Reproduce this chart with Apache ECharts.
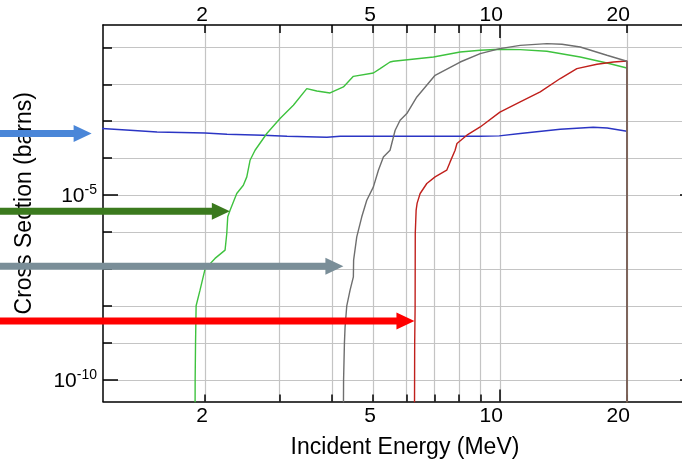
<!DOCTYPE html>
<html>
<head>
<meta charset="utf-8">
<script src="https://cdn.jsdelivr.net/npm/echarts@6/dist/echarts.min.js"></script>
<style>
  html, body { margin: 0; padding: 0; background: #fff; }
  #chart { width: 682px; height: 462px; }
</style>
</head>
<body>
<div id="chart"></div>
<script>
// Axis ticks: incident energy (MeV) and cross-section decades (barns)
const energyTicks = [2, 3, 4, 5, 6, 7, 8, 9, 10, 20];
const energyMajorTicks = [10];
const energyLabels = [2, 5, 10, 20];
const xsTicks = [1e-10, 1e-9, 1e-8, 1e-7, 1e-6, 1e-5, 1e-4, 1e-3, 1e-2, 1e-1];
const xsLabels = [1e-10, 1e-5];

// Reaction channels: [incident energy (MeV), cross section (barns)]
const channelBlue = [
  [1.10, 6.5e-4], [1.328, 5.71e-4], [1.539, 5.14e-4], [2.0, 4.83e-4], [2.255, 4.45e-4],
  [2.746, 4.19e-4], [3.13, 3.94e-4], [3.89, 3.70e-4], [4.18, 3.94e-4], [5.49, 3.94e-4],
  [8.98, 3.94e-4], [9.96, 4.01e-4], [11.17, 4.66e-4], [13.9, 6.08e-4], [16.64, 6.89e-4],
  [17.96, 6.59e-4], [20.0, 5.37e-4]
];
const channelGreen = [
  [1.893, 1e-12], [1.895, 1e-10], [1.899, 1e-9], [1.905, 1.02e-8], [1.946, 2.7e-8],
  [2.0, 1e-7], [2.112, 1.95e-7], [2.231, 3.27e-7], [2.252, 9.2e-7], [2.264, 2.6e-6],
  [2.293, 3.94e-6], [2.378, 1.11e-5], [2.465, 1.86e-5], [2.512, 3.13e-5], [2.557, 8.8e-5],
  [2.628, 1.64e-4], [2.802, 4.66e-4], [3.012, 1.18e-3], [3.239, 2.70e-3], [3.485, 7.65e-3],
  [3.681, 6.59e-3], [3.958, 5.82e-3], [4.256, 8.45e-3], [4.494, 1.64e-2], [5.013, 2.02e-2],
  [5.20, 2.65e-2], [5.49, 4.0e-2], [5.59, 4.19e-2], [6.96, 5.47e-2], [8.05, 7.47e-2],
  [8.98, 8.3e-2], [10.01, 8.83e-2], [11.17, 8.67e-2], [12.92, 7.8e-2], [15.5, 5.47e-2],
  [17.93, 3.77e-2], [20.0, 2.76e-2], [20.0, 1e-12]
];
const channelGray = [
  [4.252, 1e-12], [4.26, 1e-10], [4.28, 1e-9], [4.295, 2.7e-9], [4.335, 1.02e-8],
  [4.414, 2.7e-8], [4.494, 6.2e-8], [4.50, 1.75e-7], [4.578, 7.46e-7], [4.705, 2.6e-6],
  [4.835, 7.3e-6], [5.013, 1.68e-5], [5.152, 4.74e-5], [5.294, 1.08e-4], [5.49, 1.64e-4],
  [5.645, 5.7e-4], [5.80, 1.06e-3], [6.016, 1.61e-3], [6.355, 4.54e-3], [7.02, 1.75e-2],
  [8.05, 4.0e-2], [8.98, 6.76e-2], [10.0, 9.2e-2], [11.17, 0.113], [12.92, 0.126],
  [14.03, 0.121], [15.5, 0.102], [17.93, 6.08e-2], [20.0, 4.19e-2], [20.0, 1e-12]
];
const channelRed = [
  [6.27, 1e-12], [6.28, 1e-9], [6.295, 9.6e-9], [6.30, 9.2e-7], [6.33, 3.94e-6],
  [6.365, 6.1e-6], [6.47, 1.11e-5], [6.71, 2.07e-5], [7.02, 3.13e-5], [7.48, 4.74e-5],
  [7.62, 7.95e-5], [7.83, 1.64e-4], [7.91, 2.5e-4], [8.35, 4.19e-4], [8.98, 7.0e-4],
  [10.0, 1.77e-3], [11.17, 3.32e-3], [12.46, 6.2e-3], [13.9, 1.43e-2], [15.22, 2.65e-2],
  [16.98, 3.47e-2], [18.59, 4.0e-2], [20.0, 4.27e-2], [20.0, 1e-12]
];

// Threshold arrows: [energy at the arrow tip (MeV), cross section level (barns)]
const arrowTips = [
  [1.077, 4.66e-4],
  [2.29, 3.7e-6],
  [4.256, 1.2e-7],
  [6.272, 3.94e-9]
];
const arrowColors = ['#4a86d8', '#3b7a1e', '#7a8e98', '#ff0000'];

const FONT = 'Liberation Sans';
const xMin = 1.146, xMax = 29.0;
const yMin = Math.pow(10, -10.58), yMax = Math.pow(10, -0.397);

const chart = echarts.init(document.getElementById('chart'), null, { renderer: 'canvas' });

function xAxisDef(position, ticks, tickLen, withLine, withLabels, withSplit, withName) {
  return {
    type: 'log', logBase: 10, position: position, min: xMin, max: xMax,
    axisLine: { show: withLine, lineStyle: { color: '#000', width: 1.5 } },
    axisTick: { show: true, inside: true, length: tickLen, customValues: ticks,
                lineStyle: { color: '#000', width: 1.5 } },
    axisLabel: withLabels ? {
      show: true, customValues: energyLabels, margin: position === 'top' ? -1 : 4,
      align: 'right', padding: [0, -3, 0, 0],
      color: '#000', fontFamily: FONT, fontSize: 21,
      formatter: v => String(Math.round(v))
    } : { show: false },
    splitLine: { show: withSplit, lineStyle: { color: '#c4c4c4', width: 1.2 } },
    minorTick: { show: false }, minorSplitLine: { show: false },
    name: withName ? 'Incident Energy (MeV)' : '',
    nameLocation: 'middle', nameGap: 35,
    nameTextStyle: { color: '#000', fontFamily: FONT, fontSize: 23, padding: [0, 0, 0, 12] }
  };
}

function yAxisDef(position, ticks, tickLen, withLine, withLabels, withSplit, withName) {
  return {
    type: 'log', logBase: 10, position: position, min: yMin, max: yMax,
    axisLine: { show: withLine, lineStyle: { color: '#000', width: 1.5 } },
    axisTick: { show: true, inside: true, length: tickLen, customValues: ticks,
                lineStyle: { color: '#000', width: 1.5 } },
    axisLabel: withLabels ? {
      show: true, customValues: xsLabels, margin: 6,
      formatter: v => '{b|10}{s|' + Math.round(Math.log10(v)) + '}',
      rich: {
        b: { fontFamily: FONT, fontSize: 21, color: '#000', verticalAlign: 'bottom',
             lineHeight: 24, padding: [4, 0, 0, 0] },
        s: { fontFamily: FONT, fontSize: 14, color: '#000', verticalAlign: 'top', lineHeight: 14 }
      }
    } : { show: false },
    splitLine: { show: withSplit, lineStyle: { color: '#c4c4c4', width: 1.2 } },
    minorTick: { show: false }, minorSplitLine: { show: false },
    name: withName ? 'Cross Section (barns)' : '',
    nameLocation: 'middle', nameGap: 67, nameRotate: 90,
    nameTextStyle: { color: '#000', fontFamily: FONT, fontSize: 23, padding: [0, 0, 0, 20] }
  };
}

function lineSeries(name, data, color) {
  return {
    name: name, type: 'line', data: data, xAxisIndex: 0, yAxisIndex: 0,
    showSymbol: false, symbol: 'none', smooth: false, clip: true, animation: false,
    lineStyle: { color: color, width: 1.4 }
  };
}

chart.setOption({
  animation: false,
  backgroundColor: '#fff',
  grid: { left: 103, top: 25, width: 592, height: 376.5, containLabel: false, outerBoundsMode: 'none' },
  xAxis: [
    xAxisDef('bottom', energyTicks, 7, true, true, true, true),
    xAxisDef('bottom', energyMajorTicks, 12, false, false, false, false),
    xAxisDef('top', energyTicks, 8, true, true, false, false),
    xAxisDef('top', energyMajorTicks, 13, false, false, false, false)
  ],
  yAxis: [
    yAxisDef('left', xsTicks, 9, true, false, true, true),
    yAxisDef('left', xsLabels, 15, false, true, false, false),
    yAxisDef('right', xsTicks, 9, true, false, false, false),
    yAxisDef('right', xsLabels, 15, false, false, false, false)
  ],
  series: [
    lineSeries('Channel A', channelBlue, '#2b35c4'),
    lineSeries('Channel B', channelGreen, '#3ec23e'),
    lineSeries('Channel D', channelRed, '#c0201c'),
    lineSeries('Channel C', channelGray, '#6e6e6e')
  ]
});

// Threshold arrows start at the left edge of the canvas and end on the data point
function drawArrows() {
  const shaftHalf = 3.5, headLen = 18, headHalf = 8.5;
  const elements = arrowTips.map((tip, i) => {
    const p = chart.convertToPixel({ seriesIndex: 0 }, tip);
    const x = p[0], y = p[1], x0 = 0, xh = x - headLen;
    return {
      type: 'polygon', z: 100, silent: true,
      shape: { points: [
        [x0, y - shaftHalf], [xh, y - shaftHalf], [xh, y - headHalf], [x, y],
        [xh, y + headHalf], [xh, y + shaftHalf], [x0, y + shaftHalf]
      ] },
      style: { fill: arrowColors[i] }
    };
  });
  chart.setOption({ graphic: { elements: elements } });
}
drawArrows();
</script>
</body>
</html>
